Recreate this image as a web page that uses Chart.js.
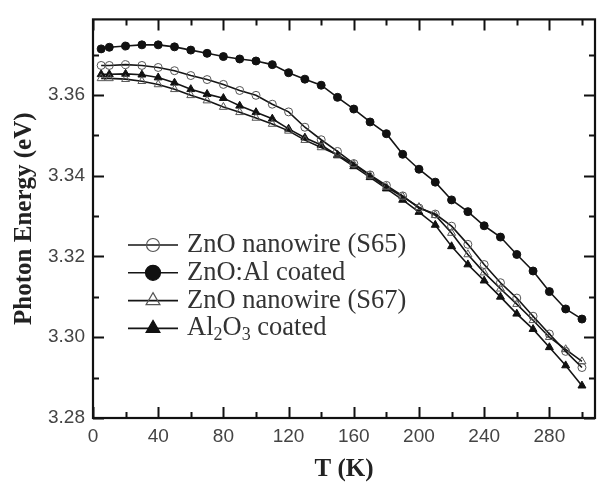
<!DOCTYPE html>
<html>
<head>
<meta charset="utf-8">
<script src="https://cdn.jsdelivr.net/npm/chart.js@4.4.1/dist/chart.umd.min.js"></script>
<style>
  html, body { margin: 0; padding: 0; background: #fff; }
  canvas { display: block; }
</style>
</head>
<body>
<canvas id="chart-canvas" width="603" height="485"></canvas>
<script>
// temperatures (K)
const temps = [5, 10, 20, 30, 40, 50, 60, 70, 80, 90, 100, 110, 120, 130, 140, 150,
  160, 170, 180, 190, 200, 210, 220, 230, 240, 250, 260, 270, 280, 290, 300];

// photon energy (eV) for each series
const znoS65 = [3.3673, 3.3673, 3.3675, 3.3673, 3.3668, 3.3660, 3.3648, 3.3638, 3.3626, 3.3611, 3.3599,
  3.3577, 3.3558, 3.3520, 3.3489, 3.3460, 3.3430, 3.3402, 3.3376, 3.3350, 3.3320, 3.3305, 3.3275,
  3.3230, 3.3180, 3.3135, 3.3097, 3.3052, 3.3008, 3.2965, 3.2925];
const znoAl = [3.3714, 3.3718, 3.3721, 3.3724, 3.3724, 3.3719, 3.3711, 3.3703, 3.3695, 3.3689, 3.3684,
  3.3675, 3.3655, 3.3639, 3.3624, 3.3594, 3.3565, 3.3533, 3.3504, 3.3453, 3.3416, 3.3384, 3.3340,
  3.3311, 3.3276, 3.3248, 3.3205, 3.3164, 3.3113, 3.3070, 3.3045];
const znoS67 = [3.3641, 3.3641, 3.3639, 3.3634, 3.3626, 3.3614, 3.3599, 3.3586, 3.3570, 3.3557, 3.3543,
  3.3528, 3.3511, 3.3488, 3.3470, 3.3452, 3.3428, 3.3400, 3.3372, 3.3348, 3.3322, 3.3302, 3.3258,
  3.3205, 3.3160, 3.3120, 3.3082, 3.3042, 3.3000, 3.2970, 3.2940];
const al2o3 = [3.3651, 3.3651, 3.3652, 3.3650, 3.3643, 3.3630, 3.3614, 3.3602, 3.3592, 3.3573, 3.3557,
  3.3541, 3.3516, 3.3494, 3.3476, 3.3450, 3.3423, 3.3396, 3.3368, 3.3340, 3.3310, 3.3278, 3.3225,
  3.3180, 3.3140, 3.3100, 3.3058, 3.3020, 3.2975, 3.2930, 3.2880];

// legend labels, "_n" means subscript
const seriesLabels = ['ZnO nanowire (S65)', 'ZnO:Al coated', 'ZnO nanowire (S67)', 'Al_2O_3 coated'];

const xLabelTicks = [0, 40, 80, 120, 160, 200, 240, 280];
const yLabelTicks = ['3.28', '3.30', '3.32', '3.34', '3.36'];

const toPts = (vals) => temps.map((t, i) => ({ x: t, y: vals[i] }));

function makeSet(label, vals, style, filled) {
  return {
    label: label,
    data: toPts(vals),
    borderColor: '#151515',
    borderWidth: 1.6,
    pointStyle: style,
    pointRadius: style === 'triangle' ? 4.6 : 4,
    pointBorderWidth: 1,
    pointBorderColor: filled ? '#111' : '#555',
    pointBackgroundColor: filled ? '#111' : 'rgba(255,255,255,0)',
    fill: false,
    tension: 0,
  };
}

// inward ticks on all four sides + frame
const frameTicks = {
  id: 'frameTicks',
  afterDatasetsDraw(chart) {
    const { ctx, chartArea: a } = chart;
    const xs = chart.scales.x, ys = chart.scales.y;
    ctx.save();
    ctx.strokeStyle = '#111';
    ctx.lineWidth = 2;
    xs.ticks.forEach(t => {
      const px = Math.round(xs.getPixelForValue(t.value)) + 0.5;
      const len = t.value % 40 === 0 ? 11 : 6;
      ctx.beginPath();
      ctx.moveTo(px, a.bottom); ctx.lineTo(px, a.bottom - len);
      ctx.moveTo(px, a.top); ctx.lineTo(px, a.top + len);
      ctx.stroke();
    });
    ys.ticks.forEach(t => {
      const py = Math.round(ys.getPixelForValue(t.value)) + 0.5;
      const len = Math.round(t.value * 100) % 2 === 0 ? 11 : 6;
      ctx.beginPath();
      ctx.moveTo(a.left, py); ctx.lineTo(a.left + len, py);
      ctx.moveTo(a.right, py); ctx.lineTo(a.right - len, py);
      ctx.stroke();
    });
    ctx.lineWidth = 2.2;
    ctx.strokeRect(a.left, a.top, a.right - a.left, a.bottom - a.top);
    ctx.restore();
  }
};

function drawRich(ctx, text, x, y) {
  const parts = text.split(/_(\d)/);
  let cx = x;
  parts.forEach((p, i) => {
    if (!p) return;
    const sub = i % 2 === 1;
    ctx.font = sub ? '18px "Liberation Serif", serif' : '26.5px "Liberation Serif", serif';
    ctx.fillText(p, cx, sub ? y + 7 : y);
    cx += ctx.measureText(p).width;
  });
}

const legendBox = {
  id: 'legendBox',
  afterDraw(chart) {
    const { ctx, chartArea: a } = chart;
    chart.data.datasets.forEach((ds, i) => {
      const y = 245 + i * 27.8;
      const x0 = a.left + 35, x1 = a.left + 85, xm = (x0 + x1) / 2;
      ctx.save();
      ctx.strokeStyle = '#151515';
      ctx.lineWidth = 1.6;
      ctx.beginPath(); ctx.moveTo(x0, y); ctx.lineTo(x1, y); ctx.stroke();
      ctx.fillStyle = ds.pointBackgroundColor;
      ctx.strokeStyle = ds.pointBorderColor;
      ctx.lineWidth = 1.2;
      Chart.helpers.drawPoint(ctx, {
        pointStyle: ds.pointStyle,
        radius: ds.pointStyle === 'triangle' ? 8 : (ds.pointBackgroundColor === '#111' ? 7.5 : 6.5),
        rotation: 0,
        borderWidth: 1.2
      }, xm, y);
      ctx.fillStyle = '#333';
      ctx.textBaseline = 'middle';
      ctx.textAlign = 'left';
      drawRich(ctx, ds.label, a.left + 94, y);
      ctx.restore();
    });
  }
};

new Chart(document.getElementById('chart-canvas'), {
  type: 'line',
  data: {
    datasets: [
      makeSet(seriesLabels[0], znoS65, 'circle', false),
      makeSet(seriesLabels[1], znoAl, 'circle', true),
      makeSet(seriesLabels[2], znoS67, 'triangle', false),
      makeSet(seriesLabels[3], al2o3, 'triangle', true),
    ],
  },
  options: {
    responsive: false,
    animation: false,
    devicePixelRatio: 1,
    layout: { padding: { left: 0, right: 8, top: 14, bottom: 0 } },
    plugins: { legend: { display: false }, tooltip: { enabled: false } },
    scales: {
      x: {
        type: 'linear',
        min: 0,
        max: 308,
        grid: { display: false, drawTicks: false },
        border: { display: false },
        ticks: {
          stepSize: 20,
          includeBounds: false,
          autoSkip: false,
          maxRotation: 0,
          padding: 7,
          color: '#444',
          font: { family: '"Liberation Sans", Arial, sans-serif', size: 19 },
          callback: (v) => xLabelTicks.includes(v) ? String(v) : '',
        },
        title: {
          display: true,
          text: 'T (K)',
          color: '#222',
          padding: { top: 0, bottom: 0 },
          font: { family: '"Liberation Serif", serif', size: 25, weight: 'bold' },
        },
        afterFit: (s) => { s.height = 67; },
      },
      y: {
        type: 'linear',
        min: 3.28,
        max: 3.3787,
        grid: { display: false, drawTicks: false },
        border: { display: false },
        ticks: {
          stepSize: 0.01,
          includeBounds: false,
          autoSkip: false,
          padding: 8,
          color: '#444',
          font: { family: '"Liberation Sans", Arial, sans-serif', size: 19 },
          callback: (v) => {
            const s = v.toFixed(2);
            return yLabelTicks.includes(s) ? s : '';
          },
        },
        title: {
          display: true,
          text: 'Photon Energy (eV)',
          color: '#222',
          padding: { top: 10, bottom: 0 },
          font: { family: '"Liberation Serif", serif', size: 25, weight: 'bold' },
        },
        afterFit: (s) => { s.width = 93; },
      },
    },
  },
  plugins: [frameTicks, legendBox],
});
</script>
</body>
</html>
